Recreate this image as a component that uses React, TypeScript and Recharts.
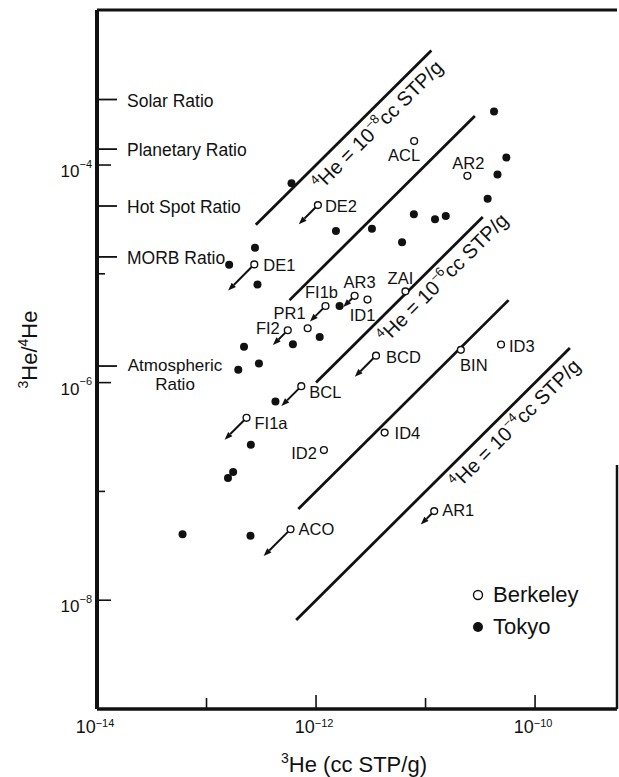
import React from 'react';
import { Legend, ReferenceDot, ReferenceLine, Scatter, ScatterChart, XAxis, YAxis } from 'recharts';

const FONT = '"Liberation Sans", Arial, Helvetica, sans-serif';
const INK = '#111';

// axis ranges (3He in cc STP/g, 3He/4He)
const X_MIN = 1e-14;
const X_MAX = 5.6e-10;
const Y_MIN = 1e-9;
const Y_MAX = 2.66e-3;

const X_TICKS = [1e-14, 1e-13, 1e-12, 1e-11, 1e-10];
const X_TOP_TICKS = [1e-13, 1e-12, 1e-11, 1e-10];
const Y_TICKS = [1e-8, 1e-7, 1e-6, 1e-5, 1e-4];

const RATIO_NAMES = ['Solar Ratio', 'Planetary Ratio', 'Hot Spot Ratio', 'MORB Ratio', 'Atmospheric Ratio'];
const RATIO_VALUES = [4.0e-4, 1.4e-4, 4.2e-5, 1.43e-5, 1.42e-6];

// lines of constant 4He (cc STP/g), drawn between these 3He values
const HE4_LEVELS = [1e-8, 1e-7, 1e-6, 1e-5, 1e-4];
const HE4_FROM = [2.82e-13, 5.73e-13, 1.0e-12, 6.89e-13, 6.59e-13];
const HE4_TO = [1.13e-11, 2.82e-11, 3.33e-11, 5.73e-11, 2.08e-10];
const HE4_LABELLED = [1e-8, 1e-6, 1e-4];
const HE4_LABEL_AT = [2.92e-12, 1.15e-11, 5.25e-11];

// Berkeley samples
const BERKELEY_NAMES = ['ACL', 'AR2', 'DE2', 'DE1', 'FI1b', 'AR3', 'ID1', 'PR1', 'FI2', 'ZAI', 'BCD', 'BCL', 'BIN', 'ID3', 'FI1a', 'ID2', 'ID4', 'ACO', 'AR1'];
const BERKELEY_HE3 = [7.87e-12, 2.41e-11, 1.04e-12, 2.73e-13, 1.22e-12, 2.25e-12, 2.95e-12, 8.39e-13, 5.52e-13, 6.55e-12, 3.53e-12, 7.33e-13, 2.1e-11, 4.89e-11, 2.32e-13, 1.18e-12, 4.23e-12, 5.85e-13, 1.2e-11];
const BERKELEY_RATIO = [1.66e-4, 7.96e-5, 4.28e-5, 1.22e-5, 5.06e-6, 6.28e-6, 5.8e-6, 3.16e-6, 3.03e-6, 6.9e-6, 1.77e-6, 9.27e-7, 2.0e-6, 2.24e-6, 4.75e-7, 2.4e-7, 3.47e-7, 4.49e-8, 6.59e-8];
const BERKELEY_UPPER_LIMIT = [false, false, true, true, true, true, false, false, true, false, true, true, false, false, true, false, false, true, true];

// Tokyo samples
const TOKYO_HE3 = [5.97e-13, 4.22e-11, 5.47e-11, 4.54e-11, 3.69e-11, 7.82e-12, 1.22e-11, 1.53e-11, 1.52e-12, 3.24e-12, 6.1e-12, 2.77e-13, 1.61e-13, 2.92e-13, 1.64e-12, 1.08e-12, 6.15e-13, 2.2e-13, 3.01e-13, 1.95e-13, 4.26e-13, 2.54e-13, 1.75e-13, 1.57e-13, 6.04e-14, 2.52e-13];
const TOKYO_RATIO = [6.79e-5, 3.1e-4, 1.17e-4, 8.18e-5, 4.91e-5, 3.53e-5, 3.18e-5, 3.4e-5, 2.48e-5, 2.6e-5, 1.95e-5, 1.74e-5, 1.21e-5, 7.96e-6, 5.07e-6, 2.62e-6, 2.25e-6, 2.14e-6, 1.5e-6, 1.31e-6, 6.71e-7, 2.69e-7, 1.51e-7, 1.33e-7, 4.04e-8, 3.92e-8];

const berkeley = BERKELEY_NAMES.map((name, i) => ({
  name,
  x: BERKELEY_HE3[i],
  y: BERKELEY_RATIO[i],
  limit: BERKELEY_UPPER_LIMIT[i],
}));
const tokyo = TOKYO_HE3.map((x, i) => ({ x, y: TOKYO_RATIO[i] }));

// label placement around each open circle: dx, dy (baseline), anchor
const TAG: Record<string, [number, number, 'start' | 'middle' | 'end']> = {
  ACL: [-10, 20, 'middle'],
  AR2: [1, -7, 'middle'],
  DE2: [7, 7, 'start'],
  DE1: [9, 7, 'start'],
  FI1b: [-4, -8, 'middle'],
  AR3: [5, -8, 'middle'],
  ID1: [-5, 21, 'middle'],
  PR1: [-2, -9, 'end'],
  FI2: [-8, 4, 'end'],
  ZAI: [-5, -7, 'middle'],
  BCD: [10, 7, 'start'],
  BCL: [8, 12, 'start'],
  BIN: [13, 21, 'middle'],
  ID3: [8, 7, 'start'],
  FI1a: [8, 11, 'start'],
  ID2: [-7, 9, 'end'],
  ID4: [10, 6, 'start'],
  ACO: [8, 6, 'start'],
  AR1: [8, 5, 'start'],
};
const ARROW_LEN: Record<string, number> = {
  DE2: 27, DE1: 37, FI1b: 22, AR3: 16, FI2: 21, BCD: 30, BCL: 28, FI1a: 31, ACO: 38, AR1: 19,
};

const expOf = (v: number) => Math.round(Math.log10(v));
const sup = (e: number) => `\u2212${-e}`;

function XTick({ x, y, payload }: any) {
  const e = expOf(payload.value);
  const labelled = e % 2 === 0;
  return (
    <g>
      {payload.value > X_MIN && (
        <line x1={x} x2={x} y1={y} y2={y - (labelled ? 14 : 11)} stroke={INK} strokeWidth={1.6} />
      )}
      {labelled && (
        <text x={x - 2} y={y + 24} textAnchor="middle" fontFamily={FONT} fontSize={18} fill={INK}>
          10<tspan fontSize={11} dy={-6.5}>{sup(e)}</tspan>
        </text>
      )}
    </g>
  );
}

function TopTick({ x, y }: any) {
  return <line x1={x} x2={x} y1={y} y2={y + 17} stroke={INK} strokeWidth={1.6} />;
}

function YTick({ x, y, payload }: any) {
  const e = expOf(payload.value);
  const labelled = e % 2 === 0;
  return (
    <g>
      <line x1={x} x2={x + (labelled ? 14 : 8)} y1={y} y2={y} stroke={INK} strokeWidth={1.6} />
      {labelled && (
        <text x={x - 5} y={y + 12} textAnchor="end" fontFamily={FONT} fontSize={17} fill={INK}>
          10<tspan fontSize={11} dy={-9.5}>{sup(e)}</tspan>
        </text>
      )}
    </g>
  );
}

function RatioTick({ x, y, payload }: any) {
  const name = RATIO_NAMES[RATIO_VALUES.indexOf(payload.value)] ?? '';
  const words = name.split(' ');
  const twoLines = name.startsWith('Atmospheric');
  return (
    <g>
      <line x1={x} x2={x + 21} y1={y} y2={y} stroke={INK} strokeWidth={1.8} />
      {twoLines ? (
        <g>
          <text x={x + 79} y={y + 5} textAnchor="middle" fontFamily={FONT} fontSize={17} fill={INK}>
            {words[0]}
          </text>
          <text x={x + 79} y={y + 24} textAnchor="middle" fontFamily={FONT} fontSize={17} fill={INK}>
            {words.slice(1).join(' ')}
          </text>
        </g>
      ) : (
        <text x={x + 31} y={y + 7} fontFamily={FONT} fontSize={17.5} fill={INK}>
          {name}
        </text>
      )}
    </g>
  );
}

function YTitle({ viewBox }: any) {
  const cy = viewBox && viewBox.height ? viewBox.y + viewBox.height / 2 - 10 : 349;
  return (
    <text transform={`translate(37,${cy}) rotate(-90)`} textAnchor="middle" fontFamily={FONT} fontSize={22} fill={INK}>
      <tspan fontSize={14} dy={-9}>3</tspan>
      <tspan dy={9}>He/</tspan>
      <tspan fontSize={14} dy={-9}>4</tspan>
      <tspan dy={9}>He</tspan>
    </text>
  );
}

function XTitle({ viewBox }: any) {
  const cx = viewBox && viewBox.width ? viewBox.x + viewBox.width / 2 - 3 : 354;
  return (
    <text x={cx} y={772} textAnchor="middle" fontFamily={FONT} fontSize={22} fill={INK}>
      <tspan fontSize={14} dy={-9}>3</tspan>
      <tspan dy={9}>He (cc STP/g)</tspan>
    </text>
  );
}

function He4Label({ cx, cy, level }: any) {
  const e = expOf(level);
  return (
    <g transform={`translate(${cx},${cy}) rotate(-44.8)`}>
      <text x={0} y={22} textAnchor="middle" fontFamily={FONT} fontSize={20} fill={INK}>
        <tspan fontSize={13} dy={-8}>4</tspan>
        <tspan dy={8}>He = 10</tspan>
        <tspan fontSize={13} dy={-9}>{sup(e)}</tspan>
        <tspan dy={9}>cc STP/g</tspan>
      </text>
    </g>
  );
}

function TokyoDot({ cx, cy }: any) {
  return <circle cx={cx} cy={cy} r={4} fill={INK} />;
}

function BerkeleyMark({ cx, cy, payload }: any) {
  const r = 3.4;
  const [dx, dy, anchor] = TAG[payload.name] ?? [8, 6, 'start'];
  const len = ARROW_LEN[payload.name] ?? 0;
  const k = Math.SQRT1_2;
  let arrow = null;
  if (payload.limit && len > 0) {
    const tx = cx - len * k;
    const ty = cy + len * k;
    const bx = tx + 8 * k;
    const by = ty - 8 * k;
    arrow = (
      <g>
        <line x1={cx - r * k} y1={cy + r * k} x2={bx} y2={by} stroke={INK} strokeWidth={2} />
        <polygon points={`${tx},${ty} ${bx + 3 * k},${by + 3 * k} ${bx - 3 * k},${by - 3 * k}`} fill={INK} />
      </g>
    );
  }
  return (
    <g>
      {arrow}
      <circle cx={cx} cy={cy} r={r} fill="#fff" stroke={INK} strokeWidth={1.4} />
      <text x={cx + dx} y={cy + dy} textAnchor={anchor} fontFamily={FONT} fontSize={16.5} fill={INK}>
        {payload.name}
      </text>
    </g>
  );
}

function LegendBox() {
  const row = { display: 'flex', alignItems: 'center' } as const;
  return (
    <div style={{ fontFamily: FONT, fontSize: 22, lineHeight: '32px', color: INK }}>
      <div style={row}>
        <svg width={16} height={16}>
          <circle cx={8} cy={8} r={4.5} fill="#fff" stroke={INK} strokeWidth={1.4} />
        </svg>
        <span style={{ marginLeft: 7 }}>Berkeley</span>
      </div>
      <div style={row}>
        <svg width={16} height={16}>
          <circle cx={8} cy={8} r={5} fill={INK} />
        </svg>
        <span style={{ marginLeft: 7 }}>Tokyo</span>
      </div>
    </div>
  );
}

export default function App() {
  return (
    <div style={{ position: 'absolute', left: 0, top: 0, width: 619, height: 777, background: '#fff' }}>
      <ScatterChart width={619} height={777} margin={{ top: 9, right: 2, bottom: 67, left: 95 }}>
        <XAxis
          type="number"
          dataKey="x"
          scale="log"
          domain={[X_MIN, X_MAX]}
          allowDataOverflow
          ticks={X_TICKS}
          interval={0}
          height={1}
          tickSize={0}
          tickMargin={0}
          tickLine={false}
          axisLine={{ stroke: INK, strokeWidth: 3.5 }}
          tick={(p: any) => <XTick {...p} />}
          label={<XTitle />}
        />
        <XAxis
          xAxisId="top"
          orientation="top"
          type="number"
          scale="log"
          domain={[X_MIN, X_MAX]}
          allowDataOverflow
          ticks={X_TOP_TICKS}
          interval={0}
          height={1}
          tickSize={0}
          tickMargin={0}
          tickLine={false}
          axisLine={{ stroke: INK, strokeWidth: 3.2 }}
          tick={(p: any) => <TopTick {...p} />}
        />
        <YAxis
          type="number"
          dataKey="y"
          scale="log"
          domain={[Y_MIN, Y_MAX]}
          allowDataOverflow
          ticks={Y_TICKS}
          interval={0}
          width={1}
          tickSize={0}
          tickMargin={0}
          tickLine={false}
          axisLine={{ stroke: INK, strokeWidth: 4 }}
          tick={(p: any) => <YTick {...p} />}
          label={<YTitle />}
        />
        <YAxis
          yAxisId="ratio"
          type="number"
          scale="log"
          domain={[Y_MIN, Y_MAX]}
          allowDataOverflow
          ticks={RATIO_VALUES}
          interval={0}
          width={1}
          tickSize={0}
          tickMargin={0}
          tickLine={false}
          axisLine={false}
          tick={(p: any) => <RatioTick {...p} />}
        />
        <ReferenceLine
          segment={[{ x: X_MAX, y: Y_MIN }, { x: X_MAX, y: 1.75e-7 }]}
          stroke={INK}
          strokeWidth={2.5}
        />
        {HE4_LEVELS.map((h, i) => (
          <ReferenceLine
            key={h}
            segment={[
              { x: HE4_FROM[i], y: HE4_FROM[i] / h },
              { x: HE4_TO[i], y: HE4_TO[i] / h },
            ]}
            stroke={INK}
            strokeWidth={2.8}
          />
        ))}
        {HE4_LABELLED.map((h, i) => (
          <ReferenceDot
            key={`lab-${h}`}
            x={HE4_LABEL_AT[i]}
            y={HE4_LABEL_AT[i] / h}
            r={0}
            shape={(p: any) => <He4Label cx={p.cx} cy={p.cy} level={h} />}
          />
        ))}
        <Scatter name="Tokyo" data={tokyo} isAnimationActive={false} shape={(p: any) => <TokyoDot {...p} />} />
        <Scatter name="Berkeley" data={berkeley} isAnimationActive={false} shape={(p: any) => <BerkeleyMark {...p} />} />
        <Legend
          layout="horizontal"
          verticalAlign="middle"
          align="center"
          content={() => <LegendBox />}
          wrapperStyle={{ left: 470, top: 579, width: 140, height: 64 }}
        />
      </ScatterChart>
    </div>
  );
}
